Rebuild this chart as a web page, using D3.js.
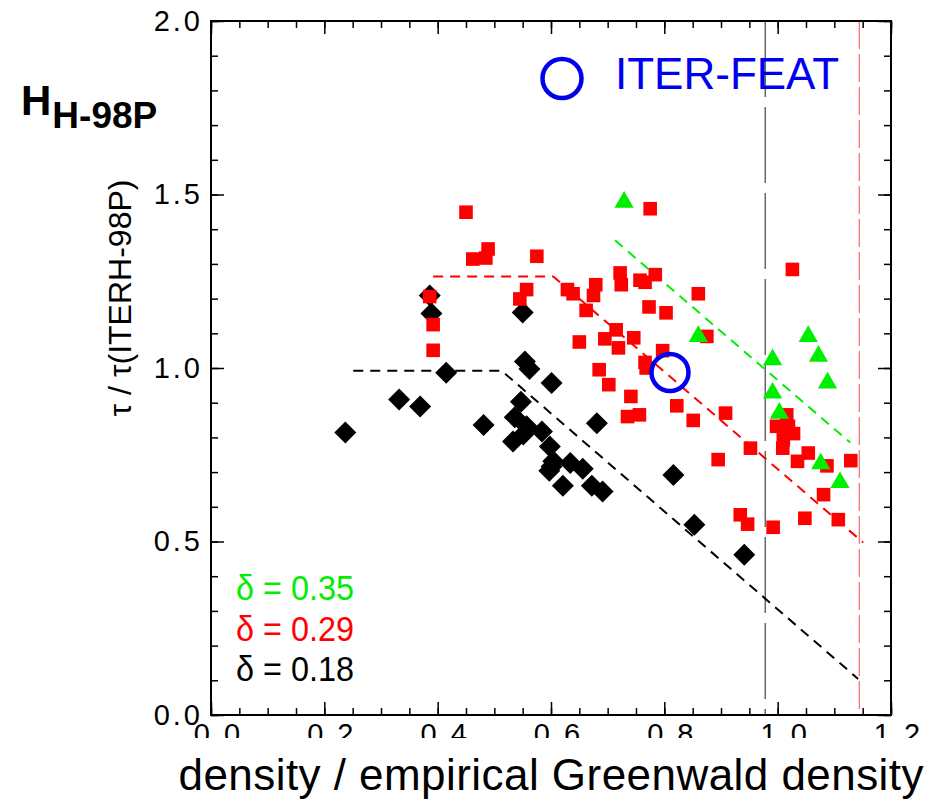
<!DOCTYPE html>
<html>
<head>
<meta charset="utf-8">
<script src="https://cdn.jsdelivr.net/npm/d3@7"></script>
<style>
  html, body { margin: 0; padding: 0; background: #fff; }
  svg { display: block; font-family: "Liberation Sans", Arial, Helvetica, sans-serif; }
</style>
</head>
<body>
<svg id="chart" width="937" height="803"></svg>
<script>
// ---------------- data ----------------
const blackX = [0.237, 0.332, 0.369, 0.386, 0.389, 0.415, 0.481, 0.550, 0.554, 0.562, 0.601, 0.547, 0.536, 0.557, 0.551, 0.533, 0.584, 0.598, 0.601, 0.604, 0.597, 0.634, 0.656, 0.621, 0.672, 0.691, 0.681, 0.816, 0.853, 0.941];
const blackY = [0.814, 0.909, 0.889, 1.209, 1.157, 0.986, 0.836, 1.160, 1.019, 0.997, 0.957, 0.903, 0.858, 0.832, 0.808, 0.788, 0.817, 0.774, 0.716, 0.731, 0.704, 0.726, 0.710, 0.661, 0.661, 0.644, 0.841, 0.692, 0.548, 0.462];

const redX = [0.450, 0.489, 0.485, 0.462, 0.575, 0.775, 0.557, 0.545, 0.386, 0.392, 0.392, 0.629, 0.639, 0.679, 0.675, 0.662, 0.722, 0.724, 0.757, 0.766, 0.784, 0.773, 0.803, 0.860, 1.026, 0.715, 0.746, 0.650, 0.695, 0.719, 0.875, 0.797, 0.766, 0.768, 0.685, 0.702, 0.741, 0.822, 0.735, 0.756, 0.851, 0.908, 1.016, 0.998, 1.019, 1.028, 1.010, 1.009, 0.952, 1.054, 1.035, 1.087, 1.129, 0.895, 1.081, 0.934, 0.947, 0.992, 1.048, 1.107];
const redY = [1.449, 1.343, 1.317, 1.314, 1.322, 1.459, 1.226, 1.199, 1.206, 1.125, 1.051, 1.226, 1.214, 1.240, 1.209, 1.166, 1.274, 1.240, 1.253, 1.247, 1.269, 1.176, 1.159, 1.214, 1.284, 1.110, 1.087, 1.075, 1.084, 1.058, 1.091, 1.050, 1.016, 1.000, 0.995, 0.952, 0.918, 0.891, 0.860, 0.865, 0.849, 0.870, 0.865, 0.832, 0.832, 0.811, 0.793, 0.769, 0.769, 0.755, 0.731, 0.718, 0.733, 0.736, 0.635, 0.577, 0.550, 0.541, 0.567, 0.563];

const greenX = [0.729, 0.860, 0.991, 1.054, 1.072, 1.088, 0.991, 1.003, 1.076, 1.110];
const greenY = [1.478, 1.091, 1.024, 1.091, 1.034, 0.957, 0.928, 0.870, 0.724, 0.670];

const iterX = [0.810];
const iterY = [0.987];

// dashed scaling lines
const redLineX = [0.392, 0.604, 1.151];
const redLineY = [1.264, 1.264, 0.497];
const blackLineX = [0.251, 0.513, 1.142];
const blackLineY = [0.992, 0.992, 0.104];
const greenLineX = [0.713, 1.128];
const greenLineY = [1.368, 0.785];

// vertical reference lines (Greenwald limits)
const vlineX = [0.978, 1.144];
const vlineColor = ["black", "red"];

// axes
const xMajor = [0.0, 0.2, 0.4, 0.6, 0.8, 1.0, 1.2];
const xMinor = d3.range(0, 25).map(i => i * 0.05);
const yMajor = [0.0, 0.5, 1.0, 1.5, 2.0];
const yMinor = d3.range(0, 21).map(i => i * 0.1);

const deltaLabels = ["δ = 0.35", "δ = 0.29", "δ = 0.18"];
const deltaColors = ["#00ee00", "#ff0000", "#000000"];

// ---------------- layout ----------------
const svg = d3.select("#chart");
const L = 211, R = 891, T = 21, B = 715;
const x = d3.scaleLinear().domain([0, 1.2]).range([L, R]);
const y = d3.scaleLinear().domain([0, 2.0]).range([B, T]);

// clip for cut-off x tick labels
const defs = svg.append("defs");
defs.append("clipPath").attr("id", "xlabclip")
  .append("rect").attr("x", 0).attr("y", B + 1).attr("width", 937).attr("height", 738 - B - 1);

// ticks (inward) on all 4 sides
function tickGroup(axisFn, scale, vals, size, tr) {
  const g = svg.append("g").attr("transform", tr)
    .call(axisFn(scale).tickValues(vals).tickSize(-size).tickFormat(""));
  g.select(".domain").remove();
  g.selectAll(".tick line").attr("stroke", "#000").attr("stroke-width", 1.5);
  return g;
}
tickGroup(d3.axisBottom, x, xMinor, 7, `translate(0,${B})`);
tickGroup(d3.axisBottom, x, xMajor, 13, `translate(0,${B})`);
tickGroup(d3.axisTop, x, xMinor, 7, `translate(0,${T})`);
tickGroup(d3.axisTop, x, xMajor, 13, `translate(0,${T})`);
tickGroup(d3.axisLeft, y, yMinor, 7, `translate(${L},0)`);
tickGroup(d3.axisLeft, y, yMajor, 13, `translate(${L},0)`);
tickGroup(d3.axisRight, y, yMinor, 7, `translate(${R},0)`);
tickGroup(d3.axisRight, y, yMajor, 13, `translate(${R},0)`);

// y tick labels
const gyl = svg.append("g").attr("transform", `translate(${L},0)`)
  .call(d3.axisLeft(y).tickValues(yMajor).tickSize(0).tickPadding(8).tickFormat(d3.format(".1f")));
gyl.select(".domain").remove();
gyl.selectAll("text").attr("font-size", 29).attr("letter-spacing", 3)
  .attr("font-family", "Liberation Sans, Arial, sans-serif").attr("fill", "#000");

// x tick labels (bottom half clipped as in original)
const gxl = svg.append("g").attr("clip-path", "url(#xlabclip)")
  .append("g").attr("transform", `translate(0,${B})`)
  .call(d3.axisBottom(x).tickValues(xMajor).tickSize(0).tickPadding(8).tickFormat(d3.format(".1f")));
gxl.select(".domain").remove();
gxl.selectAll("text").attr("font-size", 29).attr("letter-spacing", 3).attr("dx", 7)
  .attr("font-family", "Liberation Sans, Arial, sans-serif").attr("fill", "#000");

// vertical reference lines
svg.append("g").selectAll("line").data(vlineX).join("line")
  .attr("x1", d => x(d)).attr("x2", d => x(d))
  .attr("y1", y(2.0)).attr("y2", y(0))
  .attr("stroke", (d, i) => vlineColor[i] === "red" ? "#f06060" : "#333")
  .attr("stroke-width", 1.1)
  .attr("stroke-dasharray", (d, i) => vlineColor[i] === "red" ? "28,5" : "76,10");

// dashed scaling lines
const lineGen = d3.line().x(d => x(d[0])).y(d => y(d[1]));
function dashed(xs, ys, color) {
  svg.append("path").datum(xs.map((v, i) => [v, ys[i]]))
    .attr("d", lineGen).attr("fill", "none")
    .attr("stroke", color).attr("stroke-width", 2)
    .attr("stroke-dasharray", "10,7");
}
dashed(blackLineX, blackLineY, "#000");
dashed(redLineX, redLineY, "#ff0000");
dashed(greenLineX, greenLineY, "#00ee00");

// points
const diamond = d3.symbol().type(d3.symbolSquare).size(242);
svg.append("g").selectAll("path").data(blackX.map((v, i) => [v, blackY[i]])).join("path")
  .attr("d", diamond)
  .attr("transform", d => `translate(${x(d[0])},${y(d[1])}) rotate(45)`)
  .attr("fill", "#000");

svg.append("g").selectAll("rect").data(redX.map((v, i) => [v, redY[i]])).join("rect")
  .attr("x", d => x(d[0]) - 6.8).attr("y", d => y(d[1]) - 6.8)
  .attr("width", 13.6).attr("height", 13.6)
  .attr("fill", "#ff0000");

const tri = d3.symbol().type(d3.symbolTriangle).size(160);
svg.append("g").selectAll("path").data(greenX.map((v, i) => [v, greenY[i]])).join("path")
  .attr("d", tri)
  .attr("transform", d => `translate(${x(d[0])},${y(d[1])})`)
  .attr("fill", "#00ee00");

// ITER-FEAT point
svg.append("g").selectAll("circle").data(iterX.map((v, i) => [v, iterY[i]])).join("circle")
  .attr("cx", d => x(d[0])).attr("cy", d => y(d[1])).attr("r", 18.5)
  .attr("fill", "none").attr("stroke", "#0000ee").attr("stroke-width", 4.5);

// frame
svg.append("rect").attr("x", L).attr("y", T).attr("width", R - L).attr("height", B - T)
  .attr("fill", "none").attr("stroke", "#000").attr("stroke-width", 2);

// ITER-FEAT legend
svg.append("circle").attr("cx", 562).attr("cy", 78.5).attr("r", 19.5)
  .attr("fill", "none").attr("stroke", "#0000ee").attr("stroke-width", 4.5);
svg.append("text").attr("x", 615).attr("y", 88.5).attr("font-size", 44)
  .attr("fill", "#0000ee").text("ITER-FEAT");

// delta legend
svg.append("g").selectAll("text").data(deltaLabels).join("text")
  .attr("x", 236).attr("y", (d, i) => 600 + i * 40.5)
  .attr("font-size", 35).attr("textLength", 118).attr("lengthAdjust", "spacingAndGlyphs")
  .attr("fill", (d, i) => deltaColors[i])
  .text(d => d);

// title H_H-98P
const title = svg.append("text").attr("x", 21).attr("y", 115)
  .attr("font-weight", "bold").attr("fill", "#000");
title.append("tspan").attr("font-size", 42).text("H");
title.append("tspan").attr("font-size", 37).attr("dy", 13).attr("dx", 1).text("H-98P");

// axis titles
svg.append("text").attr("x", 551).attr("y", 790).attr("font-size", 44)
  .attr("text-anchor", "middle").attr("textLength", 745).attr("lengthAdjust", "spacing")
  .attr("fill", "#000").text("density / empirical Greenwald density");

svg.append("text").attr("transform", "translate(131,298) rotate(-90)")
  .attr("font-size", 32).attr("text-anchor", "middle").attr("fill", "#000")
  .text("τ / τ(ITERH-98P)");
</script>
</body>
</html>
